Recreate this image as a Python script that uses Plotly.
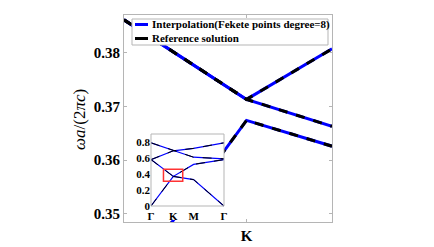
import plotly.graph_objects as go

# ---------------- data ----------------
# main plot (zoom near K), path coordinate with K at 0
k_main = [-0.589, 0.0, 0.411]
band_upper = [0.3861, 0.3713, 0.3807]
band_middle = [0.3861, 0.3713, 0.3663]
band_lower = [0.3363, 0.3674, 0.3626]
main_yticks = [0.35, 0.36, 0.37, 0.38]

# inset: full band diagram along Γ-K-M-Γ
k_inset = [0, 22, 42, 72]
k_labels = ["Γ", "K", "M", "Γ"]
inset_band1 = [0.0, 0.37, 0.33, 0.0]
inset_band2 = [0.58, 0.37, 0.52, 0.58]
inset_band3 = [0.58, 0.69, 0.72, 0.79]
inset_band4 = [0.79, 0.70, 0.61, 0.59]
inset_yticks = [0, 0.2, 0.4, 0.6, 0.8]
zoom_box_k = [12.3, 31.3]
zoom_box_w = [0.31, 0.46]

legend_labels = ["Interpolation(Fekete points degree=8)", "Reference solution"]
y_title = "<i>ωa</i>/(2<i>πc</i>)"

FONT = "Liberation Serif"
BLUE = "#0000ff"
GRID = "#b5b5b5"
OFF = 8  # page offset of the figure inside the browser window


def join(xs, bands):
    X, Y = [], []
    for b in bands:
        X += list(xs) + [None]
        Y += list(b) + [None]
    return X, Y


fig = go.Figure()

mx, my = join(k_main, [band_upper, band_middle, band_lower])
fig.add_trace(go.Scatter(x=mx, y=my, mode="lines", line=dict(color=BLUE, width=3),
                         name=legend_labels[0], showlegend=False))
fig.add_trace(go.Scatter(x=mx, y=my, mode="lines", line=dict(color="black", width=3, dash="dash"),
                         name=legend_labels[1], showlegend=False))

ix, iy = join(k_inset, [inset_band1, inset_band2, inset_band3, inset_band4])
fig.add_trace(go.Scatter(x=ix, y=iy, mode="lines", line=dict(color=BLUE, width=1.2),
                         xaxis="x2", yaxis="y2", showlegend=False))
fig.add_trace(go.Scatter(x=ix, y=iy, mode="lines", line=dict(color="black", width=1, dash="dash"),
                         xaxis="x2", yaxis="y2", showlegend=False))

# pixel -> paper helpers (plot area x 124..332, y 15..222 in window pixels)
def px(x):
    return (x - 124) / 208.0


def py(y):
    return (222 - y) / 207.0


shapes = [
    dict(type="rect", xref="x2", yref="y2", x0=zoom_box_k[0], x1=zoom_box_k[1],
         y0=zoom_box_w[0], y1=zoom_box_w[1], line=dict(color="#ff3333", width=1.5)),
    dict(type="rect", xref="paper", yref="paper", x0=px(151), x1=px(224), y0=py(206), y1=py(134),
         line=dict(color=GRID, width=1), layer="above"),
    dict(type="rect", xref="paper", yref="paper", x0=px(132), x1=px(328), y0=py(45), y1=py(19),
         line=dict(color=GRID, width=1), fillcolor="white", layer="above"),
    dict(type="line", xref="paper", yref="paper", x0=px(135), x1=px(148), y0=py(24.5), y1=py(24.5),
         line=dict(color=BLUE, width=3), layer="above"),
    dict(type="line", xref="paper", yref="paper", x0=px(135), x1=px(148), y0=py(38.5), y1=py(38.5),
         line=dict(color="black", width=3), layer="above"),
]

annotations = [
    dict(xref="paper", yref="paper", x=px(149.5), y=py(24.5), text=legend_labels[0], showarrow=False,
         xanchor="left", yanchor="middle", font=dict(family=FONT, size=11, color="black", weight="bold")),
    dict(xref="paper", yref="paper", x=px(149.5), y=py(38.5), text=legend_labels[1], showarrow=False,
         xanchor="left", yanchor="middle", font=dict(family=FONT, size=11, color="black", weight="bold")),
    dict(xref="paper", yref="paper", x=px(79), y=py(120), text=y_title, showarrow=False, textangle=-90,
         xanchor="center", yanchor="middle", font=dict(family=FONT, size=17, color="black")),
]

L, T = 124 - OFF, 15 - OFF
fig.update_layout(
    width=434, height=247, autosize=False,
    margin=dict(l=L, r=434 - L - 208, t=T, b=247 - T - 207, autoexpand=False),
    paper_bgcolor="white", plot_bgcolor="white",
    showlegend=False,
    shapes=shapes, annotations=annotations,
    xaxis=dict(domain=[0, 1], range=[-0.589, 0.411], tickvals=[0], ticktext=["K"],
               ticks="inside", ticklen=3, tickcolor=GRID, showline=True, linecolor=GRID,
               mirror="ticks", showgrid=False, zeroline=False, automargin=False,
               tickfont=dict(family=FONT, size=15, color="black", weight="bold")),
    yaxis=dict(domain=[0, 1], range=[0.3485, 0.387], tickvals=main_yticks, tickformat=".2f",
               ticks="inside", ticklen=3, tickcolor=GRID, showline=True, linecolor=GRID,
               mirror="ticks", showgrid=False, zeroline=False, automargin=False,
               tickfont=dict(family=FONT, size=15, color="black", weight="bold")),
    xaxis2=dict(domain=[px(151), px(224)], range=[0, 72], anchor="free", position=py(207.5),
                tickvals=k_inset, ticktext=k_labels, ticks="", showline=False, showgrid=False,
                zeroline=False, automargin=False,
                tickfont=dict(family=FONT, size=11, color="black", weight="bold")),
    yaxis2=dict(domain=[0.01, py(134)], range=[-0.174, 0.9], anchor="x2",
                tickvals=inset_yticks, ticktext=["0", "0.2", "0.4", "0.6", "0.8"],
                ticks="", showline=False, showgrid=False, zeroline=False, automargin=False,
                tickfont=dict(family=FONT, size=11, color="black", weight="bold")),
)

fig.write_html("out.html")
